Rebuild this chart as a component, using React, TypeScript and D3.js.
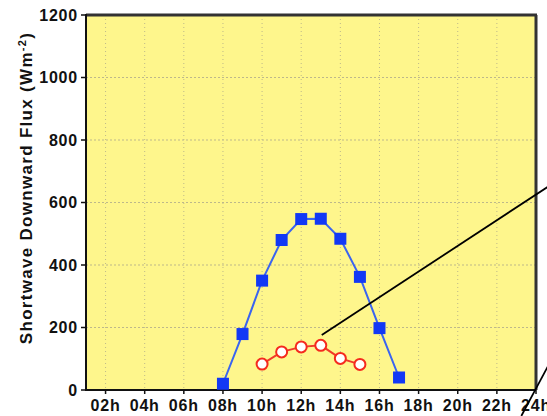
import React from "react";
import * as d3 from "d3";

const hoursBlue = [8, 9, 10, 11, 12, 13, 14, 15, 16, 17];
const fluxBlue = [20, 179, 350, 480, 547, 548, 484, 362, 198, 40];
const hoursRed = [10, 11, 12, 13, 14, 15];
const fluxRed = [83, 122, 138, 143, 101, 82];
const xTicks = [2, 4, 6, 8, 10, 12, 14, 16, 18, 20, 22, 24];
const yTicks = [0, 200, 400, 600, 800, 1000, 1200];
// annotation callout lines in data coordinates [hour, flux]
const callout1: [number, number][] = [[13.05, 176], [24.6, 650]];
const callout2: [number, number][] = [[23.25, -83], [24.6, 75]];

const W = 547, H = 416;
const left = 86, right = 536, top = 15, bottom = 390;

export default function App() {
  const x = d3.scaleLinear().domain([1, 24]).range([left, right]);
  const y = d3.scaleLinear().domain([0, 1200]).range([bottom, top]);
  const line = d3.line<[number, number]>().x(d => x(d[0])).y(d => y(d[1]));
  const blue: [number, number][] = hoursBlue.map((h, i) => [h, fluxBlue[i]]);
  const red: [number, number][] = hoursRed.map((h, i) => [h, fluxRed[i]]);
  const font = "'Liberation Sans', Arial, sans-serif";
  return (
    <svg width={W} height={H} style={{ position: "absolute", left: 0, top: 0, background: "#fff" }}>
      <rect x={left} y={top} width={right - left} height={bottom - top} fill="#fef68c" />
      {xTicks.map(t => (
        <line key={"gx" + t} x1={x(t)} x2={x(t)} y1={top} y2={bottom} stroke="#bdb88a" strokeWidth={1} strokeDasharray="1,3" />
      ))}
      {yTicks.map(t => (
        <line key={"gy" + t} x1={left} x2={right} y1={y(t)} y2={y(t)} stroke="#bdb88a" strokeWidth={1} strokeDasharray="2,2" />
      ))}
      {/* frame */}
      <line x1={left} x2={right + 1} y1={top} y2={top} stroke="#333" strokeWidth={3} />
      <line x1={right} x2={right} y1={top} y2={bottom} stroke="#333" strokeWidth={3} />
      <line x1={left} x2={left} y1={top - 1} y2={bottom + 1} stroke="#111" strokeWidth={2} />
      <line x1={left - 1} x2={right} y1={bottom} y2={bottom} stroke="#111" strokeWidth={2} />
      {yTicks.map(t => (
        <g key={"yt" + t}>
          <line x1={left - 5} x2={left} y1={y(t)} y2={y(t)} stroke="#111" strokeWidth={1.5} />
          <text x={left - 8} y={y(t)} dy="0.36em" textAnchor="end" fontFamily={font} fontSize={16} fontWeight="bold" letterSpacing={0.8} fill="#111">{t}</text>
        </g>
      ))}
      {xTicks.map(t => (
        <g key={"xt" + t}>
          <line x1={x(t)} x2={x(t)} y1={bottom} y2={bottom + 4} stroke="#111" strokeWidth={1.5} />
          <text x={x(t)} y={411} textAnchor="middle" fontFamily={font} fontSize={16} fontWeight="bold" letterSpacing={0.8} fill="#111">{(t < 10 ? "0" : "") + t + "h"}</text>
        </g>
      ))}
      <text transform={`translate(32,${188}) rotate(-90)`} textAnchor="middle" fontFamily={font} fontSize={17} fontWeight="bold" fill="#111" letterSpacing={1.3}>
        Shortwave Downward Flux (Wm<tspan dy={-6} fontSize={11}>-2</tspan><tspan dy={6}>)</tspan>
      </text>
      <path d={line(blue) || ""} fill="none" stroke="#3a64f0" strokeWidth={2} />
      {blue.map((d, i) => (
        <rect key={"b" + i} x={x(d[0]) - 6} y={y(d[1]) - 6} width={12} height={12} fill="#1238f5" />
      ))}
      <path d={line(red) || ""} fill="none" stroke="#f03a2a" strokeWidth={2} />
      {red.map((d, i) => (
        <circle key={"r" + i} cx={x(d[0])} cy={y(d[1])} r={5.5} fill="#fff" stroke="#f52a1e" strokeWidth={2} />
      ))}
      <path d={line(callout1) || ""} stroke="#000" strokeWidth={1.8} fill="none" />
      <path d={line(callout2) || ""} stroke="#000" strokeWidth={1.8} fill="none" />
    </svg>
  );
}
